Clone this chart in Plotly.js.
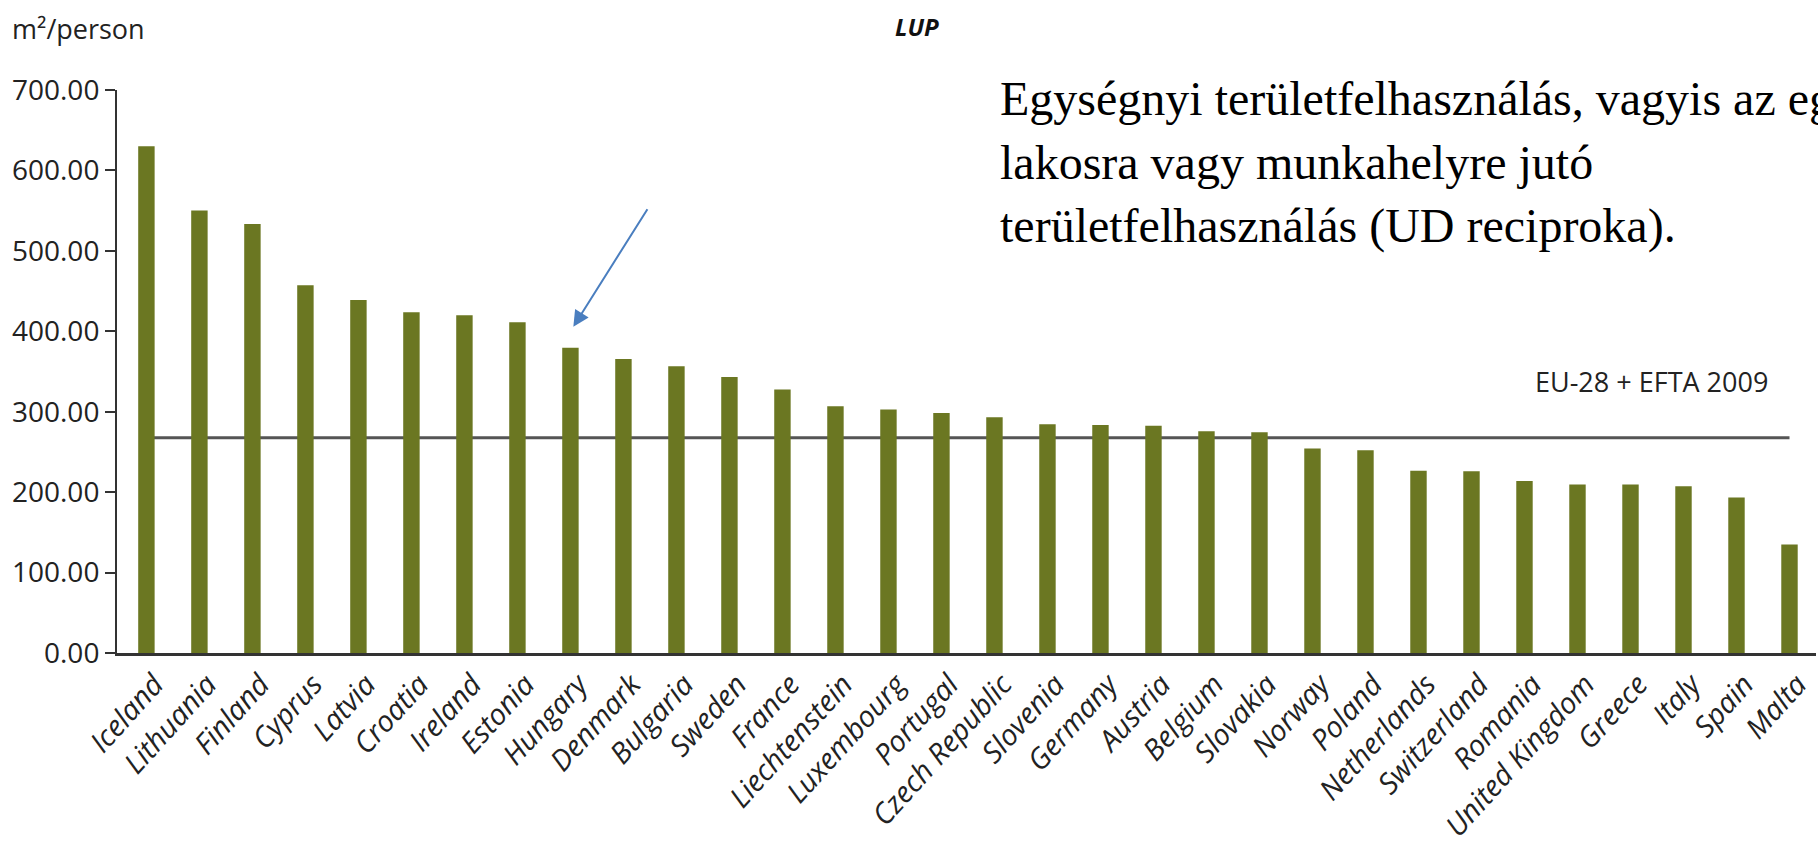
<!DOCTYPE html>
<html>
<head>
<meta charset="utf-8">
<script src="https://cdn.plot.ly/plotly-3.0.1.min.js"></script>
<style>html,body{margin:0;padding:0;background:#fff;}#chart{width:1818px;height:843px;}</style>
</head>
<body>
<div id="chart"></div>
<script>
const countries = ["Iceland","Lithuania","Finland","Cyprus","Latvia","Croatia","Ireland","Estonia","Hungary","Denmark","Bulgaria","Sweden","France","Liechtenstein","Luxembourg","Portugal","Czech Republic","Slovenia","Germany","Austria","Belgium","Slovakia","Norway","Poland","Netherlands","Switzerland","Romania","United Kingdom","Greece","Italy","Spain","Malta"];
const lupValues = [630.2,550.3,533.3,457.1,438.9,423.6,419.9,411.2,379.6,365.6,356.5,343.2,327.5,306.8,302.6,298.5,293.2,284.4,283.6,282.4,275.7,274.5,254.2,252.1,226.5,226.1,213.8,209.5,209.5,207.4,193.3,134.9];
const euAverage = 267.5;
const yTicks = [0,100,200,300,400,500,600,700];
const averageLabel = "EU-28 + EFTA 2009";
const chartTitle = "LUP";
const unitLabel = "m²/person";
const noteLines = ["Egységnyi területfelhasználás, vagyis az egy","lakosra vagy munkahelyre jutó","területfelhasználás (UD reciproka)."];

const textFont = "'Open Sans', 'Noto Sans', sans-serif";
const serifFont = "'Liberation Serif', 'Times New Roman', serif";

const trace = {
  type: 'bar',
  x: countries,
  y: lupValues,
  width: 0.31,
  marker: {color: '#6b7722', line: {width: 0}},
  hoverinfo: 'x+y'
};

const noteY = [0.9855, 0.8718, 0.7592];
const annotations = [
  {xref:'paper', yref:'paper', x:-0.063, y:1.1097, xanchor:'left', yanchor:'middle', text:unitLabel, showarrow:false, font:{family:textFont, size:27, color:'#222'}},
  {xref:'paper', yref:'paper', x:0.4709, y:1.113, xanchor:'center', yanchor:'middle', text:'<b><i>'+chartTitle+'</i></b>', showarrow:false, font:{family:textFont, size:24, color:'#111'}},
  {xref:'paper', yref:'paper', x:0.9029, y:0.483, xanchor:'center', yanchor:'middle', text:averageLabel, showarrow:false, font:{family:textFont, size:27, color:'#222'}},
  {xref:'paper', yref:'paper', x:0.2686, y:0.5796, text:'', showarrow:true, arrowhead:2, arrowsize:1.6, arrowwidth:2, arrowcolor:'#4a7ebf', ax:75, ay:-119, axref:'pixel', ayref:'pixel', standoff:0}
];
noteLines.forEach((t,i)=>annotations.push({xref:'paper', yref:'paper', x:0.5185, y:noteY[i], xanchor:'left', yanchor:'middle', text:t, showarrow:false, font:{family:serifFont, size:48, color:'#000'}}));

const layout = {
  width: 1818, height: 843,
  margin: {l:117, r:2, t:90, b:190, pad:0},
  paper_bgcolor:'#fff', plot_bgcolor:'#fff',
  showlegend:false,
  bargap: 0.69,
  xaxis: {
    type:'category', range:[-0.555, 31.5],
    showline:true, linecolor:'#333', linewidth:2.5,
    ticks:'', showgrid:false, zeroline:false,
    tickangle:-48, ticklabelshift:8,
    tickfont:{family:textFont, size:29, color:'#222', style:'italic'}, automargin:false
  },
  yaxis: {
    range:[0,700], tickvals:yTicks, tickformat:'.2f',
    showline:true, linecolor:'#333', linewidth:2,
    ticks:'outside', ticklen:10, tickwidth:2, tickcolor:'#333',
    showgrid:false, zeroline:false,
    tickfont:{family:textFont, size:28, color:'#222'}, automargin:false
  },
  shapes: [
    {type:'line', xref:'x', yref:'y', x0:0, x1:31, y0:euAverage, y1:euAverage, layer:'below', line:{color:'#555', width:3}}
  ],
  annotations: annotations
};

Plotly.newPlot('chart', [trace], layout, {displayModeBar:false, responsive:false});
</script>
</body>
</html>
